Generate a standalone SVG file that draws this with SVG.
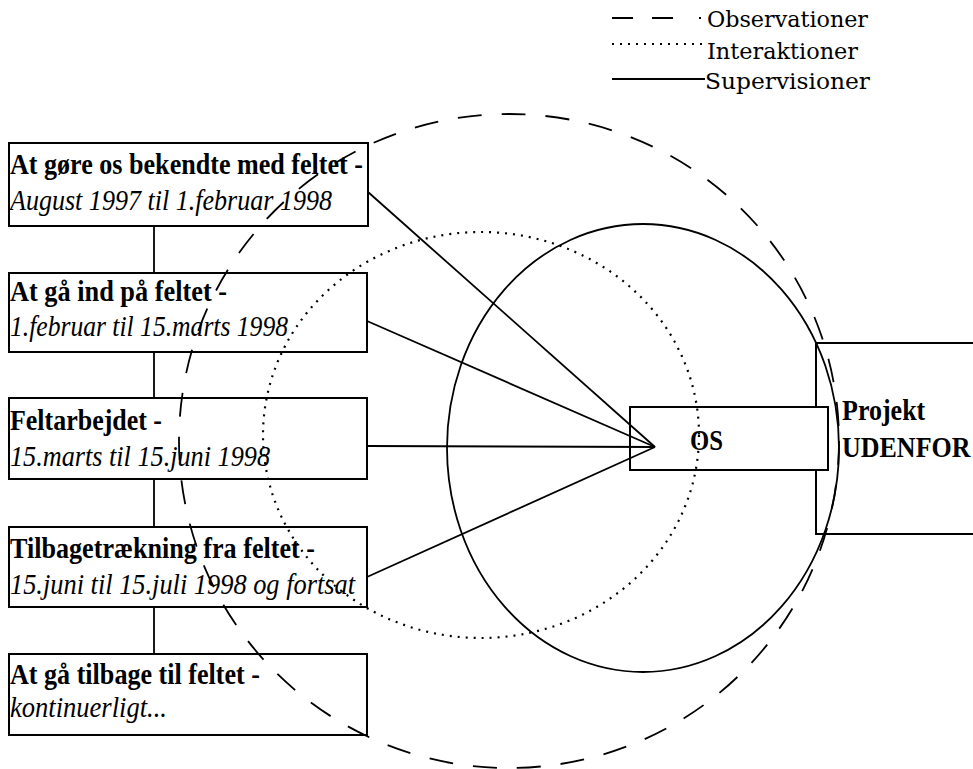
<svg xmlns="http://www.w3.org/2000/svg" width="973" height="769" viewBox="0 0 973 769">
<style>
.box{fill:#fff;stroke:#000;stroke-width:2}
.b{font-family:"Liberation Serif","Times New Roman",serif;font-weight:bold;font-size:29px;fill:#000}
.b26{font-family:"Liberation Serif","Times New Roman",serif;font-weight:bold;font-size:26px;fill:#000}
.i{font-family:"Liberation Serif","Times New Roman",serif;font-style:italic;font-size:29px;fill:#000}
.leg{font-family:"DejaVu Serif","Liberation Serif",serif;font-size:22px;fill:#000}
.con{stroke:#000;stroke-width:1.8;fill:none}
.sup{fill:none;stroke:#000;stroke-width:1.8}
.obs{fill:none;stroke:#000;stroke-width:1.8;stroke-dasharray:24 20}
.int{fill:none;stroke:#000;stroke-width:2.2;stroke-dasharray:2 6}
</style>
<rect width="973" height="769" fill="#fff"/>

<g id="legend">
  <line x1="612" y1="18" x2="702" y2="18" class="con" stroke-dasharray="21 19 21 26 2"/>
  <text x="707" y="27" class="leg" textLength="161" lengthAdjust="spacingAndGlyphs">Observationer</text>
  <line x1="612" y1="44" x2="705" y2="44" class="int"/>
  <text x="707" y="59" class="leg" textLength="151" lengthAdjust="spacingAndGlyphs">Interaktioner</text>
  <line x1="612" y1="79" x2="705" y2="79" class="con"/>
  <text x="705" y="89" class="leg" textLength="165" lengthAdjust="spacingAndGlyphs">Supervisioner</text>
</g>

<g id="timeline">
  <line x1="154" y1="226" x2="154" y2="654" class="con"/>
</g>

<g id="phase1">
  <rect x="9" y="143" width="359" height="83" class="box"/>
  <text x="10" y="174" class="b" textLength="353" lengthAdjust="spacingAndGlyphs">At gøre os bekendte med feltet -</text>
  <text x="10" y="210" class="i" textLength="322" lengthAdjust="spacingAndGlyphs">August 1997 til 1.februar 1998</text>
</g>
<g id="phase2">
  <rect x="9" y="273" width="358" height="79" class="box"/>
  <text x="10" y="301" class="b" textLength="217" lengthAdjust="spacingAndGlyphs">At gå ind på feltet -</text>
  <text x="10" y="336" class="i" textLength="278" lengthAdjust="spacingAndGlyphs">1.februar til 15.marts 1998</text>
</g>
<g id="phase3">
  <rect x="9" y="398" width="358" height="81" class="box"/>
  <text x="10" y="430" class="b" textLength="152" lengthAdjust="spacingAndGlyphs">Feltarbejdet -</text>
  <text x="10" y="466" class="i" textLength="260" lengthAdjust="spacingAndGlyphs">15.marts til 15.juni 1998</text>
</g>
<g id="phase4">
  <rect x="9" y="527" width="358" height="80" class="box"/>
  <text x="10" y="558" class="b" textLength="305" lengthAdjust="spacingAndGlyphs">Tilbagetrækning fra feltet -</text>
  <text x="10" y="594" class="i" textLength="345" lengthAdjust="spacingAndGlyphs">15.juni til 15.juli 1998 og fortsat</text>
</g>
<g id="phase5">
  <rect x="9" y="654" width="358" height="81" class="box"/>
  <text x="10" y="684" class="b" textLength="250" lengthAdjust="spacingAndGlyphs">At gå tilbage til feltet -</text>
  <text x="10" y="717" class="i" textLength="157" lengthAdjust="spacingAndGlyphs">kontinuerligt...</text>
</g>

<g id="projekt">
  <rect x="816" y="343" width="170" height="191" class="box"/>
  <text transform="translate(842,420) scale(1,1.12)" class="b26">Projekt</text>
  <text transform="translate(842,457) scale(1,1.12)" class="b26">UDENFOR</text>
</g>

<g id="os">
  <rect x="630" y="407" width="198" height="63" class="box"/>
  <text x="690" y="450" class="b" textLength="33" lengthAdjust="spacingAndGlyphs">OS</text>
</g>

<g id="connectors">
  <line x1="368" y1="192" x2="655" y2="447" class="con"/>
  <line x1="367" y1="321" x2="655" y2="447" class="con"/>
  <line x1="367" y1="446" x2="655" y2="447" class="con"/>
  <line x1="367" y1="577" x2="655" y2="447" class="con"/>
</g>

<g id="regions">
  <ellipse id="supervisioner" cx="643" cy="448" rx="196" ry="224" class="sup"/>
  <ellipse id="interaktioner" cx="481" cy="435" rx="218" ry="203" class="int"/>
  <ellipse id="observationer" cx="509" cy="441" rx="330" ry="327" class="obs"/>
</g>
</svg>
